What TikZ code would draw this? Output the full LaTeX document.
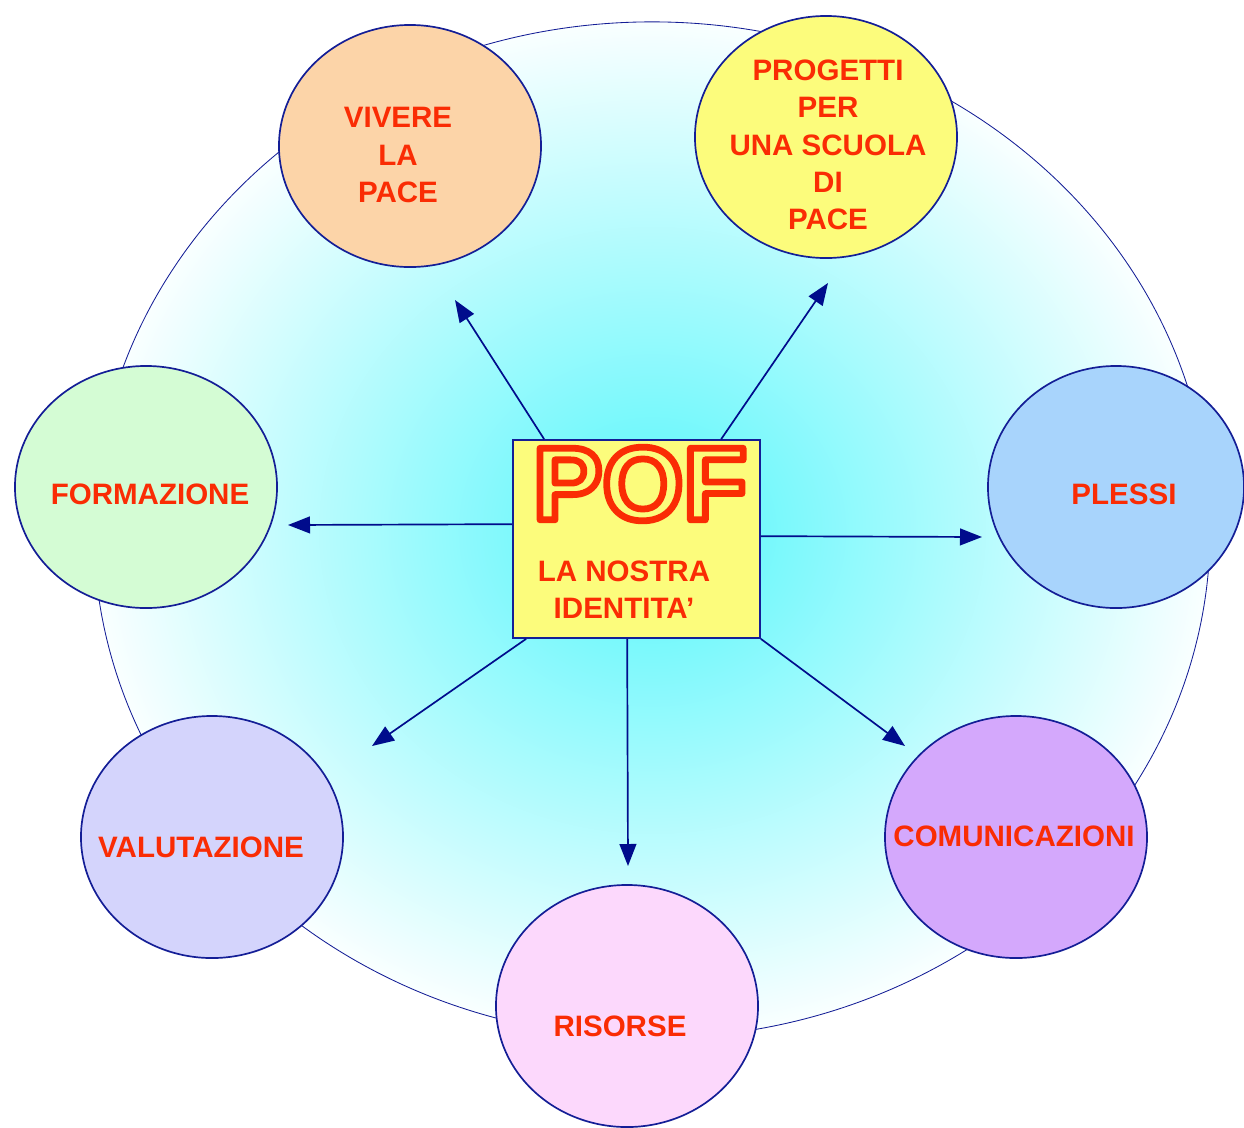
\documentclass[tikz,border=0pt]{standalone}
\usepackage{fontspec}
\setmainfont{Liberation Sans}
\usetikzlibrary{shapes.geometric,arrows.meta}
\definecolor{poftext}{RGB}{250,44,4}
\definecolor{pofline}{RGB}{20,30,150}
\definecolor{pofarrow}{RGB}{0,12,140}
\definecolor{pofyellow}{RGB}{252,252,124}
\definecolor{pofpeach}{RGB}{252,212,168}
\definecolor{pofgreen}{RGB}{212,252,212}
\definecolor{pofblue}{RGB}{168,212,252}
\definecolor{poflilac}{RGB}{212,212,252}
\definecolor{pofpurple}{RGB}{212,168,252}
\definecolor{pofpink}{RGB}{252,216,252}
\definecolor{pofcyan}{RGB}{112,248,252}
\pgfdeclareradialshading{pofglow}{\pgfpoint{0bp}{0bp}}{color(0bp)=(pofcyan); color(4bp)=(pofcyan); color(25bp)=(white!96!pofcyan); color(50bp)=(white)}
% hollow letters: yellow face with a red rim
\newcommand{\pofface}[1]{{\color{pofyellow}\special{pdf:literal direct 0.98 0.173 0.016 RG 4.8 w 1 j 2 Tr}#1\special{pdf:literal direct 0 Tr}}}
\tikzset{
  bubble/.style={ellipse, draw=pofline, line width=1.2pt, minimum width=6.55cm,
    minimum height=6.05cm, inner sep=0pt},
  bubbletext/.style={align=center, text=poftext, inner sep=0pt,
    font=\bfseries\fontsize{21}{26.5}\selectfont},
  link/.style={draw=pofarrow, line width=1.2pt, -{Triangle[length=0.55cm, width=0.42cm]}},
}
\begin{document}
\begin{tikzpicture}[x=0.025cm, y=-0.025cm]
  \useasboundingbox (0,0) rectangle (1244,1127);
  % background ring
  \shade[shading=pofglow] (652,530) ellipse [x radius=13.95cm, y radius=12.7cm];
  \draw[pofline, line width=0.6pt] (652,530) ellipse [x radius=13.95cm, y radius=12.7cm];

  % centre box
  \node[draw=pofline, line width=1.2pt, fill=pofyellow, minimum width=6.175cm,
    minimum height=4.95cm] (pof) at (636.5,539) {};
  \node[inner sep=0pt] (poftitle) at (640,484)
    {\bfseries\fontsize{74}{74}\selectfont\pofface{POF}};
  \node[bubbletext] (pofsub) at (624,590) {LA NOSTRA\\IDENTITA'};

  % arrow tips
  \coordinate (tvivere) at (455,300);
  \coordinate (tprogetti) at (828,283);
  \coordinate (tformazione) at (288,525);
  \coordinate (tplessi) at (982,537);
  \coordinate (tvalutazione) at (372,746);
  \coordinate (trisorse) at (628,866);
  \coordinate (tcomunicazioni) at (905,746);

  \draw[link] ([xshift=0.8cm]pof.north west) -- (tvivere);
  \draw[link] ([xshift=5.225cm]pof.north west) -- (tprogetti);
  \draw[link] ([yshift=-2.125cm]pof.north west) -- (tformazione);
  \draw[link] ([yshift=-2.425cm]pof.north east) -- (tplessi);
  \draw[link] ([xshift=0.35cm]pof.south west) -- (tvalutazione);
  \draw[link] ([xshift=2.875cm]pof.south west) -- (trisorse);
  \draw[link] (pof.south east) -- (tcomunicazioni);

  % outer circles
  \node[bubble, fill=pofpeach] (vivere) at (410,146) {};
  \node[bubble, fill=pofyellow] (progetti) at (826,137) {};
  \node[bubble, fill=pofgreen] (formazione) at (146,487) {};
  \node[bubble, fill=pofblue, minimum width=6.4cm] (plessi) at (1116,487) {};
  \node[bubble, fill=poflilac] (valutazione) at (212,837) {};
  \node[bubble, fill=pofpurple] (comunicazioni) at (1016,837) {};
  \node[bubble, fill=pofpink] (risorse) at (627,1006) {};

  \node[bubbletext] (viveretext) at (398,155) {VIVERE\\LA\\PACE};
  \node[bubbletext] (progettitext) at (828,145) {PROGETTI\\PER\\UNA SCUOLA\\DI\\PACE};
  \node[bubbletext] (formazionetext) at (150,494) {FORMAZIONE};
  \node[bubbletext] (plessitext) at (1124,494) {PLESSI};
  \node[bubbletext] (valutazionetext) at (201,847) {VALUTAZIONE};
  \node[bubbletext] (comunicazionitext) at (1014,836) {COMUNICAZIONI};
  \node[bubbletext] (risorsetext) at (620,1026) {RISORSE};
\end{tikzpicture}
\end{document}
